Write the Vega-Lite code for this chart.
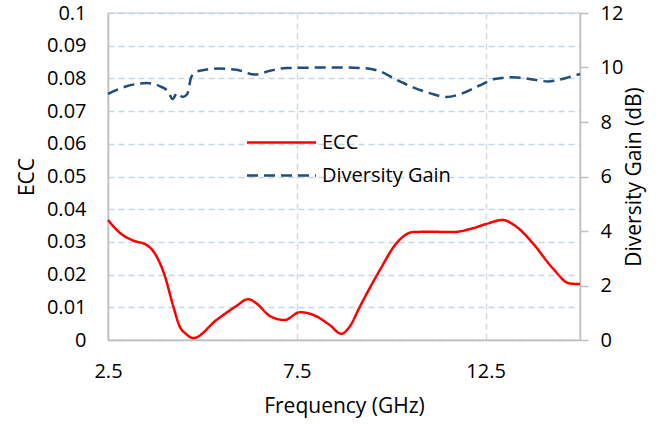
{
  "$schema": "https://vega.github.io/schema/vega-lite/v6.json",
  "width": 472,
  "height": 327,
  "autosize": {"type": "none"},
  "padding": {"left": 108, "top": 13, "right": 82, "bottom": 84},
  "background": "white",
  "config": {
    "font": "Open Sans",
    "view": {"stroke": "#d9d9d9", "strokeWidth": 1.5},
    "axis": {"labelFont": "Open Sans", "titleFont": "Open Sans", "labelColor": "#000", "titleColor": "#000", "titleFontWeight": "normal", "labelFontSize": 20, "titleFontSize": 21}
  },
  "data": {
    "values": [
      {"freq": 2.5, "value": 0.0367, "series": "ECC"},
      {"freq": 2.82, "value": 0.0327, "series": "ECC"},
      {"freq": 3.17, "value": 0.0304, "series": "ECC"},
      {"freq": 3.52, "value": 0.0291, "series": "ECC"},
      {"freq": 3.79, "value": 0.0255, "series": "ECC"},
      {"freq": 4.01, "value": 0.0194, "series": "ECC"},
      {"freq": 4.23, "value": 0.0102, "series": "ECC"},
      {"freq": 4.4, "value": 0.0041, "series": "ECC"},
      {"freq": 4.56, "value": 0.0019, "series": "ECC"},
      {"freq": 4.76, "value": 0.0006, "series": "ECC"},
      {"freq": 5.37, "value": 0.0061, "series": "ECC"},
      {"freq": 5.9, "value": 0.0104, "series": "ECC"},
      {"freq": 6.21, "value": 0.0125, "series": "ECC"},
      {"freq": 6.43, "value": 0.0112, "series": "ECC"},
      {"freq": 6.79, "value": 0.0073, "series": "ECC"},
      {"freq": 7.18, "value": 0.0061, "series": "ECC"},
      {"freq": 7.58, "value": 0.0085, "series": "ECC"},
      {"freq": 7.93, "value": 0.0077, "series": "ECC"},
      {"freq": 8.37, "value": 0.0046, "series": "ECC"},
      {"freq": 8.68, "value": 0.0019, "series": "ECC"},
      {"freq": 8.9, "value": 0.0041, "series": "ECC"},
      {"freq": 9.17, "value": 0.0102, "series": "ECC"},
      {"freq": 9.7, "value": 0.0214, "series": "ECC"},
      {"freq": 10.14, "value": 0.0296, "series": "ECC"},
      {"freq": 10.58, "value": 0.033, "series": "ECC"},
      {"freq": 11.02, "value": 0.0331, "series": "ECC"},
      {"freq": 11.63, "value": 0.033, "series": "ECC"},
      {"freq": 12.08, "value": 0.0339, "series": "ECC"},
      {"freq": 12.52, "value": 0.0355, "series": "ECC"},
      {"freq": 12.94, "value": 0.0367, "series": "ECC"},
      {"freq": 13.31, "value": 0.0347, "series": "ECC"},
      {"freq": 13.75, "value": 0.0296, "series": "ECC"},
      {"freq": 14.28, "value": 0.0219, "series": "ECC"},
      {"freq": 14.72, "value": 0.0173, "series": "ECC"},
      {"freq": 15, "value": 0.0171, "series": "ECC"},
      {"freq": 2.5, "value": 9.03, "series": "Diversity Gain"},
      {"freq": 2.99, "value": 9.31, "series": "Diversity Gain"},
      {"freq": 3.52, "value": 9.43, "series": "Diversity Gain"},
      {"freq": 3.88, "value": 9.31, "series": "Diversity Gain"},
      {"freq": 4.1, "value": 9.1, "series": "Diversity Gain"},
      {"freq": 4.21, "value": 8.84, "series": "Diversity Gain"},
      {"freq": 4.33, "value": 9.06, "series": "Diversity Gain"},
      {"freq": 4.48, "value": 8.92, "series": "Diversity Gain"},
      {"freq": 4.6, "value": 9.03, "series": "Diversity Gain"},
      {"freq": 4.71, "value": 9.67, "series": "Diversity Gain"},
      {"freq": 4.93, "value": 9.88, "series": "Diversity Gain"},
      {"freq": 5.42, "value": 9.96, "series": "Diversity Gain"},
      {"freq": 5.9, "value": 9.92, "series": "Diversity Gain"},
      {"freq": 6.39, "value": 9.74, "series": "Diversity Gain"},
      {"freq": 6.79, "value": 9.88, "series": "Diversity Gain"},
      {"freq": 7.23, "value": 9.98, "series": "Diversity Gain"},
      {"freq": 8.64, "value": 10.0, "series": "Diversity Gain"},
      {"freq": 9.25, "value": 9.98, "series": "Diversity Gain"},
      {"freq": 9.7, "value": 9.86, "series": "Diversity Gain"},
      {"freq": 10.14, "value": 9.55, "series": "Diversity Gain"},
      {"freq": 10.58, "value": 9.27, "series": "Diversity Gain"},
      {"freq": 11.02, "value": 9.06, "series": "Diversity Gain"},
      {"freq": 11.46, "value": 8.92, "series": "Diversity Gain"},
      {"freq": 11.9, "value": 9.06, "series": "Diversity Gain"},
      {"freq": 12.34, "value": 9.34, "series": "Diversity Gain"},
      {"freq": 12.78, "value": 9.59, "series": "Diversity Gain"},
      {"freq": 13.22, "value": 9.64, "series": "Diversity Gain"},
      {"freq": 13.66, "value": 9.58, "series": "Diversity Gain"},
      {"freq": 14.15, "value": 9.49, "series": "Diversity Gain"},
      {"freq": 14.77, "value": 9.67, "series": "Diversity Gain"},
      {"freq": 15, "value": 9.76, "series": "Diversity Gain"}
    ]
  },
  "encoding": {
    "x": {
      "field": "freq", "type": "quantitative",
      "scale": {"domain": [2.5, 15], "nice": false, "zero": false},
      "axis": {"title": "Frequency (GHz)", "values": [2.5, 7.5, 12.5], "format": ".1f", "ticks": false, "tickSize": 0, "labelFlush": false, "labelPadding": 21, "titlePadding": 14, "domainColor": "#bfbfbf", "domainWidth": 1.5, "grid": true, "gridColor": "#d9d9d9", "gridDash": [6, 4], "gridWidth": 1.5}
    },
    "color": {
      "field": "series", "type": "nominal",
      "scale": {"domain": ["ECC", "Diversity Gain"], "range": ["#ff0000", "#1f4e79"]},
      "legend": {"title": null, "orient": "none", "legendX": 160.5, "legendY": 116.5, "padding": 0, "symbolType": "M-3,0L3,0", "symbolSize": 529, "symbolStrokeWidth": 2.5, "labelFontSize": 20, "labelFont": "Open Sans", "labelColor": "#000", "labelOffset": 27.5, "rowPadding": 10}
    },
    "strokeDash": {
      "field": "series", "type": "nominal",
      "scale": {"domain": ["ECC", "Diversity Gain"], "range": [[1, 0], [11, 6]]},
      "legend": null
    }
  },
  "layer": [
    {
      "transform": [{"filter": "datum.series === 'ECC'"}],
      "mark": {"type": "line", "interpolate": "monotone", "strokeWidth": 2.5},
      "encoding": {
        "y": {
          "field": "value", "type": "quantitative",
          "scale": {"domain": [0, 0.1], "nice": false},
          "axis": {"title": "ECC", "values": [0, 0.01, 0.02, 0.03, 0.04, 0.05, 0.06, 0.07, 0.08, 0.09, 0.1], "format": "~g", "ticks": false, "tickSize": 0, "labelPadding": 22, "titlePadding": 9, "domainColor": "#bfbfbf", "domainWidth": 1.5, "grid": true, "gridColor": "#c5d5ea", "gridDash": [6, 4], "gridWidth": 1.5}
        }
      }
    },
    {
      "transform": [{"filter": "datum.series === 'Diversity Gain'"}],
      "mark": {"type": "line", "interpolate": "monotone", "strokeWidth": 2.5},
      "encoding": {
        "y": {
          "field": "value", "type": "quantitative",
          "scale": {"domain": [0, 12], "nice": false},
          "axis": {"title": "Diversity Gain (dB)", "orient": "right", "titleAngle": 270, "values": [0, 2, 4, 6, 8, 10, 12], "ticks": true, "tickSize": 8, "tickColor": "#bfbfbf", "tickWidth": 1.5, "labelPadding": 12, "titlePadding": 22, "domainColor": "#bfbfbf", "domainWidth": 1.5, "grid": false}
        }
      }
    }
  ],
  "resolve": {"scale": {"y": "independent"}}
}
